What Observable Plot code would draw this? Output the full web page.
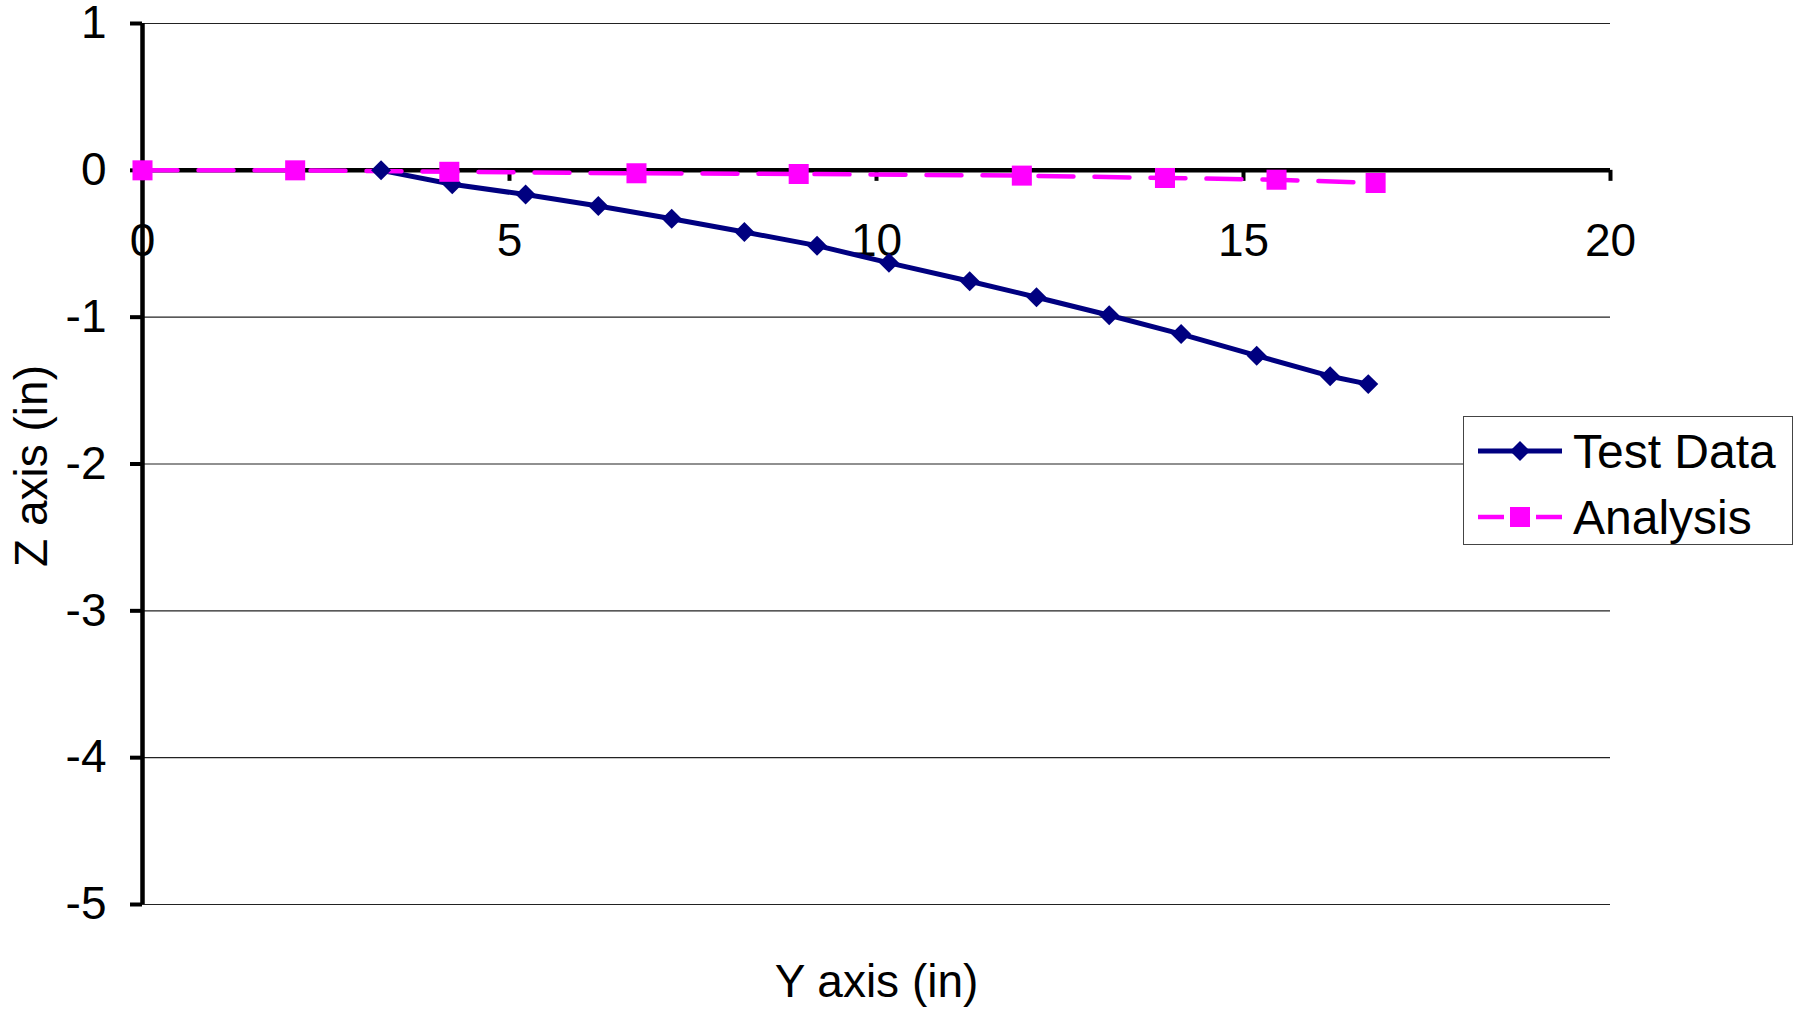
<!DOCTYPE html>
<html>
<head>
<meta charset="utf-8">
<script src="https://cdn.jsdelivr.net/npm/d3@7"></script>
<script src="https://cdn.jsdelivr.net/npm/@observablehq/plot@0.6"></script>
<style>
  html, body { margin: 0; padding: 0; background: #fff; overflow: hidden; }
  #wrap { position: relative; width: 1806px; height: 1010px; font-family: "Liberation Sans", Arial, sans-serif; }
  #legend { position: absolute; left: 1463px; top: 416px; width: 330px; height: 129px; border: 1.3px solid #444; background: #fff; box-sizing: border-box; }
  .row { position: absolute; left: 14px; height: 50px; display: flex; align-items: center; font-size: 48px; color: #000; white-space: nowrap; }
  .row svg { margin-right: 11px; }
</style>
</head>
<body>
<div id="wrap"></div>
<script>
// ---- data ----
const testY = [3.25, 4.22, 5.22, 6.21, 7.21, 8.20, 9.19, 10.17, 11.27, 12.18, 13.17, 14.15, 15.18, 16.18, 16.70];
const testZ = [0, -0.095, -0.165, -0.243, -0.33, -0.42, -0.513, -0.63, -0.755, -0.864, -0.987, -1.115, -1.262, -1.402, -1.456];
const anaY = [0, 2.08, 4.18, 6.73, 8.94, 11.98, 13.93, 15.45, 16.80];
const anaZ = [0, 0, -0.01, -0.02, -0.025, -0.036, -0.052, -0.064, -0.086];
const xTicks = [0, 5, 10, 15, 20];
const yTicks = [1, 0, -1, -2, -3, -4, -5];
const seriesNames = ["Test Data", "Analysis"];
const seriesColors = ["#000080", "#FF00FF"];
const xTitle = "Y axis (in)";
const yTitle = "Z axis (in)";

const test = testY.map((y, i) => ({y, z: testZ[i]}));
const ana = anaY.map((y, i) => ({y, z: anaZ[i]}));

const FS = 46;
const chart = Plot.plot({
  width: 1806,
  height: 1010,
  marginLeft: 142,
  marginRight: 196,
  marginTop: 23,
  marginBottom: 106,
  style: {fontFamily: "'Liberation Sans', Arial, sans-serif", background: "#fff", color: "#000", overflow: "visible"},
  x: {domain: [0, 20], axis: null},
  y: {domain: [-5, 1], axis: null},
  marks: [
    // horizontal gridlines
    Plot.ruleY(yTicks, {y: d => d, stroke: "#222", strokeWidth: 1.1}),
    // y axis with ticks and labels
    Plot.axisY({anchor: "left", ticks: yTicks, tickSize: 12, tickPadding: 24, tickFormat: d => String(d),
      fontSize: FS, stroke: "#000", strokeWidth: 4, fill: "#000", label: null}),
    Plot.ruleX([0], {stroke: "#000", strokeWidth: 4.5}),
    // x axis line at z = 0
    Plot.ruleY([0], {stroke: "#000", strokeWidth: 4.5}),
    // x tick marks hanging below the zero line
    Plot.ruleX(xTicks, {x: d => d, y1: 0, y2: 0, insetBottom: -11, stroke: "#000", strokeWidth: 4}),
    // x tick labels
    Plot.text(xTicks, {x: d => d, y: 0, text: d => String(d), dy: 71, fontSize: FS, fill: "#000", lineAnchor: "middle"}),
    // series lines
    Plot.line(test, {x: "y", y: "z", stroke: seriesColors[0], strokeWidth: 5}),
    Plot.line(ana, {x: "y", y: "z", stroke: seriesColors[1], strokeWidth: 4.5, strokeDasharray: "35,21"}),
    // series markers
    Plot.dot(test, {x: "y", y: "z", symbol: "diamond2", r: 9, fill: seriesColors[0], stroke: "none"}),
    Plot.dot(ana, {x: "y", y: "z", symbol: "square", r: 11.3, fill: seriesColors[1], stroke: "none"}),
    // axis titles
    Plot.text([xTitle], {frameAnchor: "bottom", dy: 78, fontSize: FS, fill: "#000", lineAnchor: "middle"}),
    Plot.text([yTitle], {frameAnchor: "left", textAnchor: "middle", dx: -110, dy: 2, rotate: -90, fontSize: FS, fill: "#000", lineAnchor: "middle"})
  ]
});

const wrap = document.getElementById("wrap");
wrap.appendChild(chart);

// legend overlay
const legend = document.createElement("div");
legend.id = "legend";
const rowTops = [9, 75];
seriesNames.forEach((name, i) => {
  const row = document.createElement("div");
  row.className = "row";
  row.style.top = rowTops[i] + "px";
  const sample = i === 0
    ? `<svg width="84" height="30"><line x1="0" y1="15" x2="84" y2="15" stroke="${seriesColors[0]}" stroke-width="5"/><path d="M42,5 L52,15 L42,25 L32,15 Z" fill="${seriesColors[0]}"/></svg>`
    : `<svg width="84" height="30"><line x1="0" y1="15" x2="26" y2="15" stroke="${seriesColors[1]}" stroke-width="4.5"/><line x1="58" y1="15" x2="84" y2="15" stroke="${seriesColors[1]}" stroke-width="4.5"/><rect x="32" y="5" width="20" height="20" fill="${seriesColors[1]}"/></svg>`;
  row.innerHTML = sample + `<span>${name}</span>`;
  legend.appendChild(row);
});
wrap.appendChild(legend);
</script>
</body>
</html>
